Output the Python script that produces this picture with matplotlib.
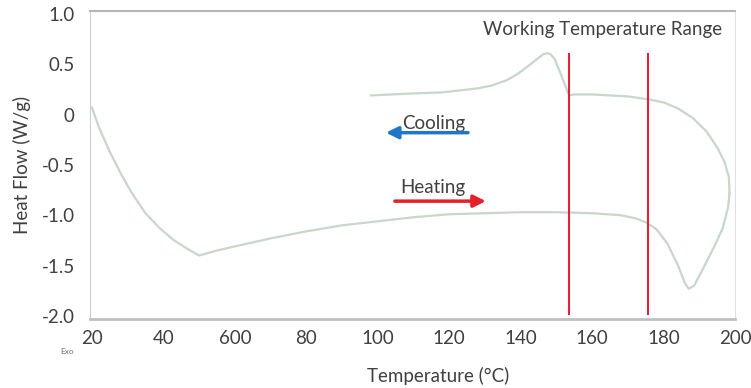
import matplotlib
matplotlib.use('Agg')
from matplotlib import pyplot as plt

plt.rcParams['font.family'] = ['Lato', 'DejaVu Sans']

# heating run (20 -> 198 C)
heat_temp = [20, 22, 25, 28, 31, 35, 39, 43, 47, 50, 55, 60, 70, 80, 90, 100, 110, 120, 130,
             140, 150, 160, 168, 172, 175, 178, 181, 184, 186, 187, 188.5, 191, 194, 196.5,
             198, 198.4]
heat_flow = [0.07, -0.13, -0.37, -0.58, -0.77, -0.98, -1.13, -1.25, -1.34, -1.40, -1.35, -1.31,
             -1.23, -1.16, -1.10, -1.06, -1.02, -0.99, -0.98, -0.97, -0.97, -0.98, -1.00, -1.03,
             -1.07, -1.14, -1.28, -1.50, -1.68, -1.73, -1.70, -1.53, -1.32, -1.13, -0.92, -0.78]

# cooling run (198 -> 98 C)
cool_temp = [198.4, 198.2, 197, 195, 192, 188, 184, 180, 176, 170, 165, 160, 155, 153.5, 152.5,
             151, 149.5, 148.3, 147.4, 146.3, 144.5, 142, 139, 136, 132, 128, 123, 118, 110,
             104, 98]
cool_flow = [-0.78, -0.62, -0.47, -0.33, -0.17, -0.03, 0.06, 0.12, 0.15, 0.18, 0.19, 0.20, 0.20,
             0.19, 0.28, 0.42, 0.55, 0.60, 0.61, 0.60, 0.55, 0.48, 0.40, 0.34, 0.29, 0.26, 0.24,
             0.22, 0.21, 0.20, 0.19]

work_range = [153.5, 175.7]   # red lines
x_ticks = [20, 40, 60, 80, 100, 120, 140, 160, 180, 200]
x_labels = ['20', '40', '600', '80', '100', '120', '140', '160', '180', '200']
y_ticks = [1.0, 0.5, 0, -0.5, -1.0, -1.5, -2.0]
y_labels = ['1.0', '0.5', '0', '-0.5', '-1.0', '-1.5', '-2.0']

txt = '#404040'
fs = 13.5
fig = plt.figure(figsize=(7.51, 3.88), dpi=100)
ax = fig.add_axes([0.120, 0.178, 0.859, 0.794])

ax.plot(heat_temp, heat_flow, color='#c8d6cb', lw=1.6)
ax.plot(cool_temp, cool_flow, color='#c8d6cb', lw=1.6)

for t in work_range:
    ax.plot([t, t], [-1.98, 0.6], color='#e5203a', lw=1.5)

ax.text(163, 0.84, 'Working Temperature Range', ha='center', va='center', fontsize=fs, color=txt)

ax.text(115.5, -0.09, 'Cooling', ha='center', va='center', fontsize=fs, color=txt)
ax.annotate('', xy=(101.5, -0.18), xytext=(126, -0.18),
            arrowprops=dict(arrowstyle='-|>', color='#1f77c8', lw=2.5, mutation_scale=18))
ax.text(115.5, -0.72, 'Heating', ha='center', va='center', fontsize=fs, color=txt)
ax.annotate('', xy=(131, -0.86), xytext=(104, -0.86),
            arrowprops=dict(arrowstyle='-|>', color='#e81e2a', lw=2.5, mutation_scale=18))

ax.set_xlim(19.5, 200)
ax.set_ylim(-2.03, 1.03)
ax.set_xticks(x_ticks)
ax.set_xticklabels(x_labels)
ax.set_yticks(y_ticks)
ax.set_yticklabels(y_labels)
ax.tick_params(length=0, labelsize=fs, labelcolor=txt)
ax.tick_params(axis='y', pad=11)
ax.tick_params(axis='x', pad=8)

ax.spines['left'].set_color('#cfcfcf')
ax.spines['bottom'].set_color('#c0c0c0')
ax.spines['bottom'].set_linewidth(2)
ax.spines['top'].set_color('#b5b5b5')
ax.spines['top'].set_linewidth(1.5)
ax.spines['right'].set_color('#e0e0e0')

ax.set_xlabel('Temperature (°C)', fontsize=fs, color=txt)
ax.xaxis.set_label_coords(0.54, -0.155)
ax.set_ylabel('Heat Flow (W/g)', fontsize=fs, color=txt)
ax.yaxis.set_label_coords(-0.092, 0.5)

fig.text(0.08, 0.095, 'Exo', fontsize=6, color='#707070', ha='left', va='center')

plt.savefig('out.png', dpi=100)
